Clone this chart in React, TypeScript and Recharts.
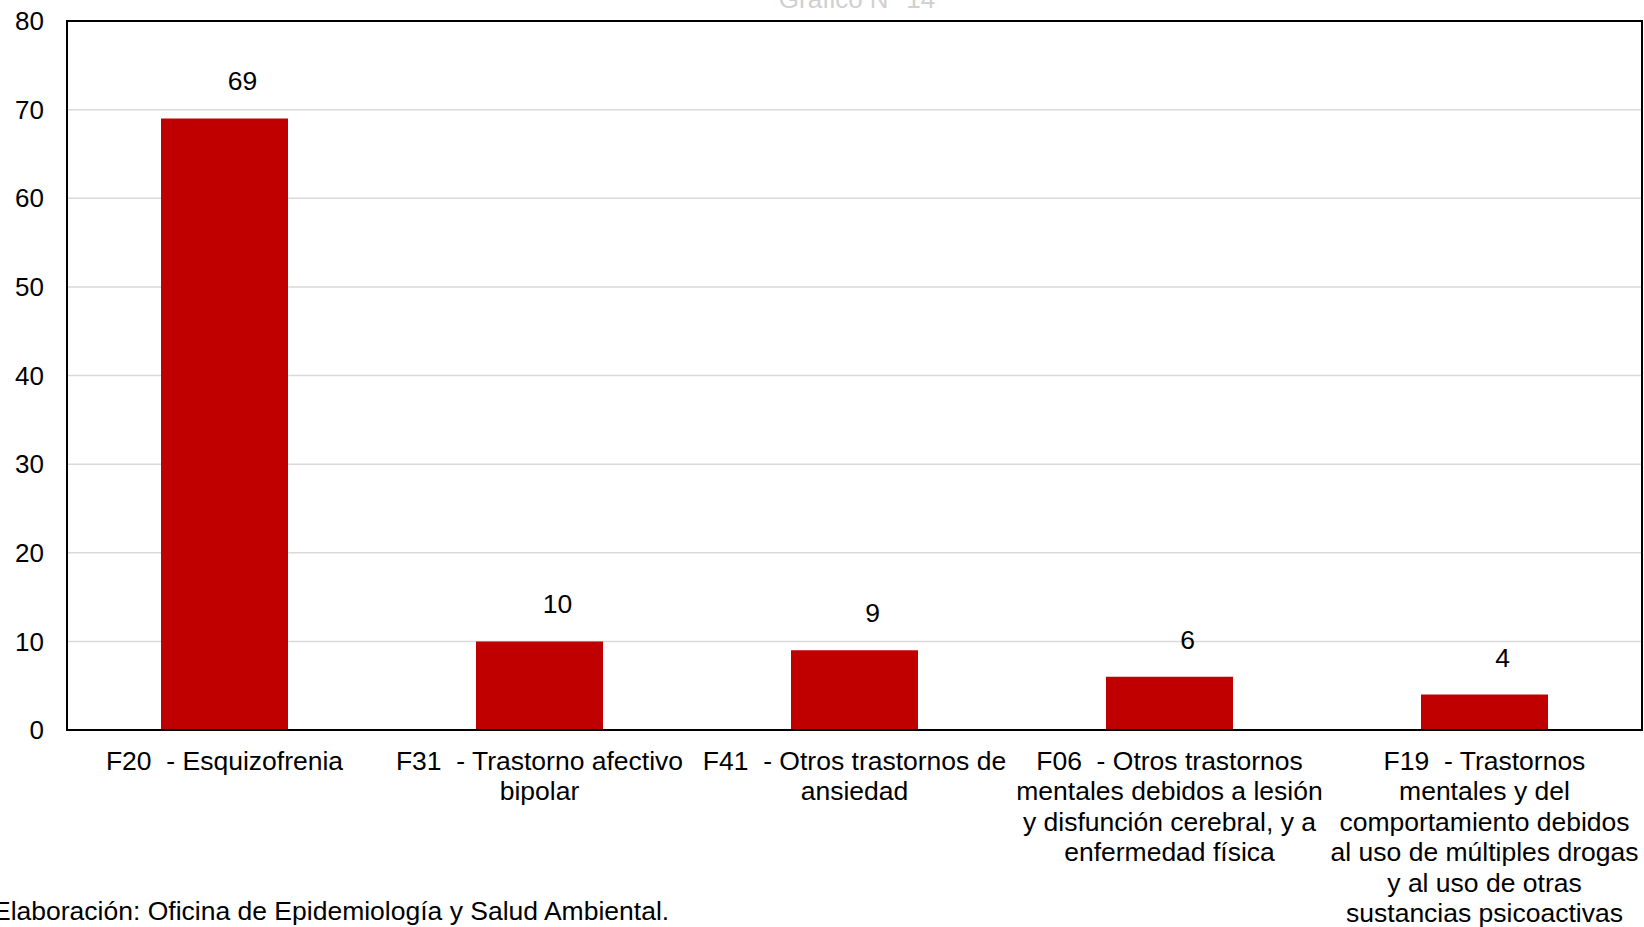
import { BarChart, Bar, XAxis, YAxis, CartesianGrid, ReferenceArea, LabelList } from 'recharts';

const categories = [
    'F20  - Esquizofrenia',
    'F31  - Trastorno afectivo\nbipolar',
    'F41  - Otros trastornos de\nansiedad',
    'F06  - Otros trastornos\nmentales debidos a lesión\ny disfunción cerebral, y a\nenfermedad física',
    'F19  - Trastornos\nmentales y del\ncomportamiento debidos\nal uso de múltiples drogas\ny al uso de otras\nsustancias psicoactivas',
];
const casos = [69, 10, 9, 6, 4];
const yTicks = [0, 10, 20, 30, 40, 50, 60, 70, 80];
const titulo = 'Gráfico N° 14';
const fuente = 'Elaboración: Oficina de Epidemiología y Salud Ambiental.';

const data = categories.map((name, i) => ({ name, casos: casos[i] }));

const FONT = '"Liberation Sans", Arial, sans-serif';

function CategoryTick({ x, y, payload }: any) {
    const lines = String(payload.value).split('\n');
    return (
        <text
            x={x}
            y={y + 38}
            textAnchor="middle"
            fill="#000"
            fontSize={26.5}
            fontFamily={FONT}
            style={{ whiteSpace: 'pre' }}
        >
            {lines.map((line, i) => (
                <tspan key={i} x={x} dy={i === 0 ? 0 : 30.4}>
                    {line}
                </tspan>
            ))}
        </text>
    );
}

function ValueLabel({ x, y, width, value }: any) {
    return (
        <text x={x + width / 2 + 18} y={y - 28} textAnchor="middle" fill="#000" fontSize={26.5} fontFamily={FONT}>
            {value}
        </text>
    );
}

export default function App() {
    return (
        <div style={{ position: 'relative', width: 1644, height: 927, overflow: 'hidden', fontFamily: FONT }}>
            <style>{'body{margin:0}'}</style>
            <BarChart
                width={1644}
                height={927}
                data={data}
                margin={{ top: 21, right: 2, left: 0, bottom: 0 }}
            >
                <CartesianGrid vertical={false} stroke="#d9d9d9" strokeWidth={1.5} />
                <XAxis
                    dataKey="name"
                    interval={0}
                    height={197}
                    tickLine={false}
                    tickSize={0}
                    axisLine={{ stroke: '#000', strokeWidth: 2 }}
                    tick={<CategoryTick />}
                />
                <YAxis
                    width={67}
                    domain={[0, 80]}
                    ticks={yTicks}
                    tickLine={false}
                    tickSize={0}
                    tickMargin={23}
                    axisLine={{ stroke: '#000', strokeWidth: 1.5 }}
                    tick={{ fill: '#000', fontSize: 26, fontFamily: FONT }}
                />
                <ReferenceArea y1={0} y2={80} fill="none" stroke="#000" strokeWidth={2} fillOpacity={0} ifOverflow="visible" />
                <Bar dataKey="casos" fill="#c00000" barSize={127} isAnimationActive={false}>
                    <LabelList dataKey="casos" content={<ValueLabel />} />
                </Bar>
            </BarChart>
            <div
                style={{
                    position: 'absolute',
                    left: 0,
                    top: -14,
                    width: 1714,
                    textAlign: 'center',
                    fontSize: 26,
                    color: '#d0d0d0',
                    lineHeight: '26px',
                }}
            >
                {titulo}
            </div>
            <div
                style={{
                    position: 'absolute',
                    left: -7,
                    top: 896,
                    fontSize: 26.5,
                    color: '#000',
                    lineHeight: '30px',
                    whiteSpace: 'nowrap',
                }}
            >
                {fuente}
            </div>
        </div>
    );
}
